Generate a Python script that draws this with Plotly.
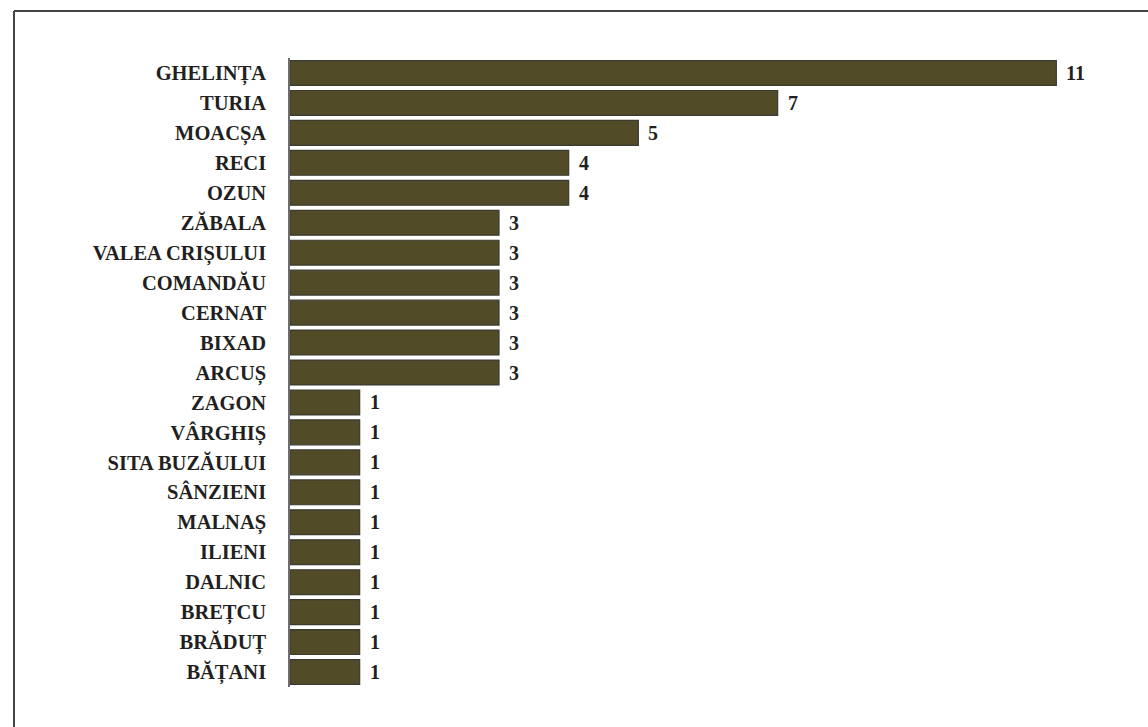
import plotly.graph_objects as go

# Localities, listed top to bottom, with their counts
localities = [
    "GHELINȚA", "TURIA", "MOACȘA", "RECI", "OZUN", "ZĂBALA",
    "VALEA CRIȘULUI", "COMANDĂU", "CERNAT", "BIXAD", "ARCUȘ",
    "ZAGON", "VÂRGHIȘ", "SITA BUZĂULUI", "SÂNZIENI", "MALNAȘ",
    "ILIENI", "DALNIC", "BREȚCU", "BRĂDUȚ", "BĂȚANI",
]
counts = [11, 7, 5, 4, 4, 3, 3, 3, 3, 3, 3, 1, 1, 1, 1, 1, 1, 1, 1, 1, 1]

W, H = 1148, 727
M_L, M_R, M_T, M_B = 290, 22, 58, 40
plot_w = W - M_L - M_R
plot_h = H - M_T - M_B

FONT = "Liberation Serif"
TEXT_COLOR = "#231f20"
BAR_FILL = "#514b27"
BAR_LINE = "#3b3a33"

fig = go.Figure(
    go.Bar(
        x=counts,
        y=localities,
        orientation="h",
        marker=dict(color=BAR_FILL, line=dict(color=BAR_LINE, width=1.2)),
        width=0.83,
        hoverinfo="x+y",
    )
)

# Value labels just right of each bar end
for name, v in zip(localities, counts):
    fig.add_annotation(
        x=v, y=name, xref="x", yref="y",
        text=f"<b>{v}</b>", showarrow=False,
        xanchor="left", yanchor="middle", xshift=8,
        font=dict(family=FONT, size=20, color=TEXT_COLOR),
    )

# Frame lines along the top and left edges of the page
def px_to_paper_x(px):
    return (px - M_L) / plot_w

def px_to_paper_y(py):
    return (H - M_B - py) / plot_h

frame = dict(color="#444444", width=2)
fig.add_shape(type="line", xref="paper", yref="paper",
              x0=px_to_paper_x(14), x1=px_to_paper_x(W + 5),
              y0=px_to_paper_y(11), y1=px_to_paper_y(11), line=frame)
fig.add_shape(type="line", xref="paper", yref="paper",
              x0=px_to_paper_x(14), x1=px_to_paper_x(14),
              y0=px_to_paper_y(11), y1=px_to_paper_y(H + 5), line=frame)

fig.update_layout(
    width=W, height=H,
    margin=dict(l=M_L, r=M_R, t=M_T, b=M_B, pad=0),
    paper_bgcolor="white",
    plot_bgcolor="white",
    showlegend=False,
    xaxis=dict(
        range=[0, 12], visible=False, showgrid=False, zeroline=False,
    ),
    yaxis=dict(
        type="category",
        range=[len(localities) - 0.5, -0.5],
        showgrid=False, zeroline=False,
        showline=True, linecolor="#6d6d6d", linewidth=1.5,
        ticks="", ticklabelstandoff=18,
        tickfont=dict(family=FONT, size=20.5, color=TEXT_COLOR),
        tickprefix="<b>", ticksuffix="</b>",
    ),
)

fig.write_html("out.html")
